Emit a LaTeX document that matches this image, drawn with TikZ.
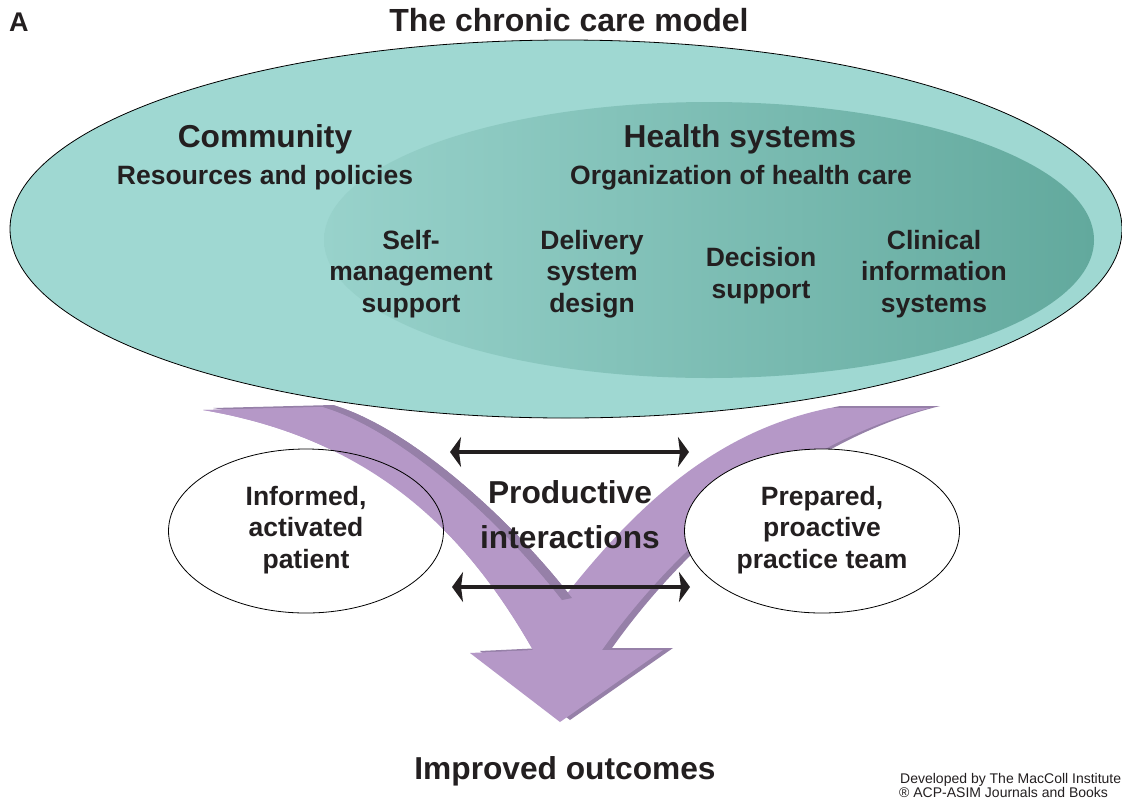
\documentclass[tikz,border=0pt]{standalone}
\usepackage{fontspec}
\setmainfont{Liberation Sans}
\usetikzlibrary{arrows.meta,shapes.geometric}
\definecolor{txt}{HTML}{231F20}
\definecolor{outerc}{HTML}{9FD8D2}
\definecolor{innerL}{HTML}{98D2CB}
\definecolor{innerR}{HTML}{62A99D}
\definecolor{purL}{HTML}{B598C7}
\definecolor{purD}{HTML}{9680A8}
\tikzset{
  big/.style={font=\fontsize{31.7}{38}\selectfont\bfseries, text=txt, anchor=base, inner sep=0pt},
  mid/.style={font=\fontsize{26.5}{31.5}\selectfont\bfseries, text=txt, align=center, anchor=base, inner sep=0pt},
  foot/.style={font=\fontsize{14}{17}\selectfont, text=txt, anchor=base west, inner sep=0pt},
  dbl/.style={line width=4pt, draw=txt, {Stealth[length=11pt,width=30pt,inset=2pt]}-{Stealth[length=11pt,width=30pt,inset=2pt]}},
  oval/.style={ellipse, minimum width=275pt, minimum height=164pt, inner sep=0pt}
}
\begin{document}
\begin{tikzpicture}[x=1pt,y=-1pt]
\useasboundingbox (0,0) rectangle (1122,804);
\fill[white] (0,0) rectangle (1122,804);

% big ellipse
\path[fill=outerc, draw=black, line width=0.8pt] (566,229) ellipse [x radius=556pt, y radius=189pt];
\shade[left color=innerL, right color=innerR] (709,240) ellipse [x radius=385pt, y radius=138pt];

% purple arrow (dark side, then light face)
\fill[purD, shift={(10,-2)}] (203,410) -- (323,407) .. controls (400,430) and (500,520) .. (562,600)
  .. controls (640,500) and (720,430) .. (830,408) -- (930,408)
  .. controls (800,440) and (680,540) .. (602,650) -- (663,650) -- (560,722) -- (470,653) -- (533,650)
  .. controls (470,540) and (380,440) .. (203,410) -- cycle;
\fill[purL] (203,410) -- (323,407) .. controls (400,430) and (500,520) .. (562,600)
  .. controls (640,500) and (720,430) .. (830,408) -- (930,408)
  .. controls (800,440) and (680,540) .. (602,650) -- (663,650) -- (560,722) -- (470,653) -- (533,650)
  .. controls (470,540) and (380,440) .. (203,410) -- cycle;

% side ellipses
\node[oval, fill=white] (patbg) at (306,531) {};
\fill[purL] (203,410) -- (323,407) .. controls (400,430) and (500,520) .. (562,600) -- (533,650)
  .. controls (470,540) and (380,440) .. (203,410) -- cycle;
\fill[purD] (323,407) -- (333,405) .. controls (410,428) and (510,518) .. (572,598) -- (562,600)
  .. controls (500,520) and (400,430) .. (323,407) -- cycle;
\node[oval, draw=black, line width=0.8pt] (pat) at (306,531) {};
\node[oval, draw=black, fill=white, line width=0.8pt] (team) at (822,531) {};

% texts
\node[big, anchor=base west, font=\fontsize{27}{32}\selectfont\bfseries] (lbl) at (9,31) {A};
\node[big, font=\fontsize{32}{38}\selectfont\bfseries] (title) at (569,31) {The chronic care model};
\node[big] (comm) at (265,147) {Community};
\node[mid] (res) at (265,184) {Resources and policies};
\node[big] (hs) at (740,147) {Health systems};
\node[mid] (org) at (741,184) {Organization of health care};
\node[mid] (self) at (411,312) {Self-\\management\\support};
\node[mid] (del) at (592,312) {Delivery\\system\\design};
\node[mid] (dec) at (761,298) {Decision\\support};
\node[mid] (cis) at (934,312) {Clinical\\information\\systems};
\node[mid] (inf) at (306,568) {Informed,\\activated\\patient};
\node[mid] (prep) at (822,568) {Prepared,\\proactive\\practice team};
\node[big, align=center, font=\fontsize{31.7}{45}\selectfont\bfseries] (prod) at (570,548) {Productive\\interactions};
\node[big] (out) at (565,779) {Improved outcomes};
\node[foot] (f1) at (900,783) {Developed by The MacColl Institute};
\node[foot] (f2) at (899,797) {® ACP-ASIM Journals and Books};

% double arrows
\coordinate (a1) at (450,452);
\coordinate (a2) at (689,452);
\coordinate (b1) at (452,587);
\coordinate (b2) at (690,587);
\draw[dbl] (a1) -- (a2);
\draw[dbl] (b1) -- (b2);
\end{tikzpicture}
\end{document}
